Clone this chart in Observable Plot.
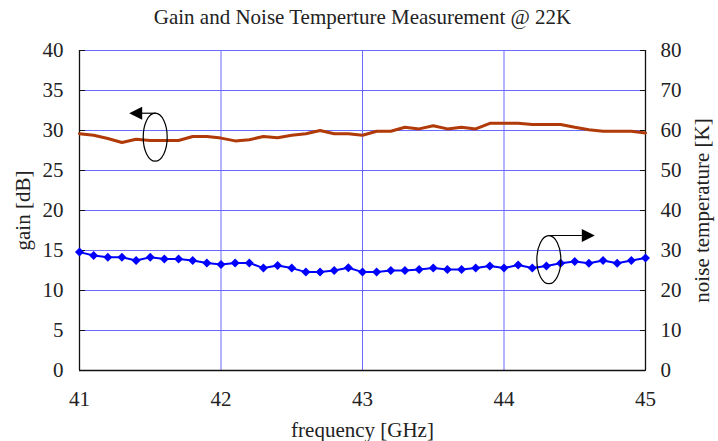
<!DOCTYPE html>
<html>
<head>
<meta charset="utf-8">
<script src="https://cdn.jsdelivr.net/npm/d3@7"></script>
<script src="https://cdn.jsdelivr.net/npm/@observablehq/plot@0.6"></script>
<style>
  html, body { margin: 0; padding: 0; background: #fff; }
  svg, svg text { font-family: "Liberation Serif", serif !important; }
</style>
</head>
<body>
<div id="chart"></div>
<script>
const freq = [41.0, 41.1, 41.2, 41.3, 41.4, 41.5, 41.6, 41.7, 41.8, 41.9,
              42.0, 42.1, 42.2, 42.3, 42.4, 42.5, 42.6, 42.7, 42.8, 42.9,
              43.0, 43.1, 43.2, 43.3, 43.4, 43.5, 43.6, 43.7, 43.8, 43.9,
              44.0, 44.1, 44.2, 44.3, 44.4, 44.5, 44.6, 44.7, 44.8, 44.9, 45.0];
const gainDb = [29.6, 29.4, 29.0, 28.5, 28.9, 28.75, 28.75, 28.75, 29.25, 29.25,
                29.05, 28.7, 28.85, 29.25, 29.1, 29.4, 29.6, 30.0, 29.6, 29.6,
                29.4, 29.9, 29.9, 30.4, 30.2, 30.6, 30.2, 30.4, 30.2, 30.9,
                30.9, 30.9, 30.75, 30.75, 30.75, 30.4, 30.1, 29.9, 29.9, 29.9, 29.7];
const noiseK = [29.6, 28.75, 28.3, 28.3, 27.5, 28.3, 27.9, 27.9, 27.5, 26.9,
                26.5, 26.9, 26.9, 25.6, 26.25, 25.6, 24.6, 24.6, 25.0, 25.7,
                24.6, 24.6, 25.0, 25.0, 25.25, 25.6, 25.25, 25.25, 25.6, 26.1,
                25.6, 26.4, 25.6, 26.1, 26.8, 27.25, 26.8, 27.5, 26.8, 27.5, 28.1];
const xTicks = [41, 42, 43, 44, 45];
const gainTicks = [0, 5, 10, 15, 20, 25, 30, 35, 40];
const noiseTicks = [0, 10, 20, 30, 40, 50, 60, 70, 80];

const title = "Gain and Noise Temperture Measurement @ 22K";
const xLabel = "frequency [GHz]";
const yLabel = "gain [dB]";
const y2Label = "noise temperature [K]";

const kToDb = 40 / 80; // right axis 0–80 K maps onto left axis 0–40 dB

const gainData = freq.map((f, i) => ({f, v: gainDb[i]}));
const noiseData = freq.map((f, i) => ({f, v: noiseK[i] * kToDb}));

const ellipse = {
  draw(ctx) {
    const rx = 12, ry = 24, k = 0.5523;
    ctx.moveTo(rx, 0);
    ctx.bezierCurveTo(rx, ry * k, rx * k, ry, 0, ry);
    ctx.bezierCurveTo(-rx * k, ry, -rx, ry * k, -rx, 0);
    ctx.bezierCurveTo(-rx, -ry * k, -rx * k, -ry, 0, -ry);
    ctx.bezierCurveTo(rx * k, -ry, rx, -ry * k, rx, 0);
    ctx.closePath();
  }
};
const headLeft = {draw(ctx) { ctx.moveTo(0, 0); ctx.lineTo(13, -6.5); ctx.lineTo(13, 6.5); ctx.closePath(); }};
const headRight = {draw(ctx) { ctx.moveTo(0, 0); ctx.lineTo(-13, -6.5); ctx.lineTo(-13, 6.5); ctx.closePath(); }};

const gridColor = "#6a6aff";
const fs = 21;
const ff = "Liberation Serif";

const chart = Plot.plot({
  width: 718,
  height: 441,
  marginLeft: 79,
  marginRight: 73,
  marginTop: 50,
  marginBottom: 71,
  style: {fontFamily: "'Liberation Serif', serif", fontSize: fs + "px", color: "#222"},
  x: {domain: [41, 45], label: null},
  y: {domain: [0, 40], label: null},
  marks: [
    Plot.ruleY(gainTicks, {stroke: gridColor, strokeWidth: 1}),
    Plot.ruleX([42, 43, 44], {stroke: gridColor, strokeWidth: 1}),
    Plot.ruleX([41, 45], {stroke: "#111", strokeWidth: 1.3}),
    Plot.ruleY([0], {stroke: "#111", strokeWidth: 1.3}),
    Plot.axisX({ticks: xTicks, tickFormat: d => d, tickSize: 0, tickPadding: 21, fontSize: fs, fontFamily: ff}),
    Plot.axisY({anchor: "left", ticks: gainTicks, tickSize: -6, tickPadding: 22, fontSize: fs, fontFamily: ff, stroke: "#111"}),
    Plot.axisY({anchor: "right", ticks: gainTicks, tickFormat: d => d / kToDb, tickSize: -6, tickPadding: 21, fontSize: fs, fontFamily: ff, stroke: "#111"}),
    Plot.line(gainData, {x: "f", y: "v", stroke: "#b03a08", strokeWidth: 3}),
    Plot.line(noiseData, {x: "f", y: "v", stroke: "#0000ff", strokeWidth: 2}),
    Plot.dot(noiseData, {x: "f", y: "v", symbol: "square", r: 3.6, rotate: 45, fill: "#0000ff", stroke: "none"}),
    // annotations: ellipse + arrow per series
    Plot.dot([{x: 41.535, y: 29.16}, {x: 44.317, y: 13.85}], {x: "x", y: "y", symbol: ellipse, fill: "none", stroke: "#000", strokeWidth: 1.2}),
    Plot.link([{x1: 41.537, x2: 41.40, y: 32.16}, {x1: 44.317, x2: 44.55, y: 16.875}], {x1: "x1", x2: "x2", y1: "y", y2: "y", stroke: "#000", strokeWidth: 1.2}),
    Plot.dot([{x: 41.351, y: 32.16}], {x: "x", y: "y", symbol: headLeft, fill: "#000", stroke: "none"}),
    Plot.dot([{x: 44.642, y: 16.875}], {x: "x", y: "y", symbol: headRight, fill: "#000", stroke: "none"}),
    Plot.text([title], {frameAnchor: "top", dy: -33, lineAnchor: "middle", fontSize: fs, fontFamily: ff, fill: "#222"}),
    Plot.text([xLabel], {frameAnchor: "bottom", dy: 60, lineAnchor: "middle", fontSize: fs, fontFamily: ff, fill: "#222"}),
    Plot.text([yLabel], {frameAnchor: "left", dx: -56, rotate: -90, textAnchor: "middle", lineAnchor: "middle", fontSize: fs, fontFamily: ff, fill: "#222"}),
    Plot.text([y2Label], {frameAnchor: "right", dx: 57, rotate: -90, textAnchor: "middle", lineAnchor: "middle", fontSize: fs, fontFamily: ff, fill: "#222"})
  ]
});
document.getElementById("chart").appendChild(chart);
</script>
</body>
</html>
